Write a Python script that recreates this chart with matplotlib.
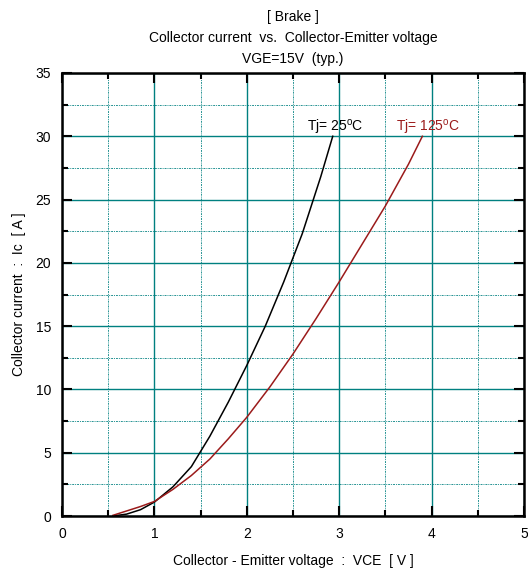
import matplotlib
matplotlib.use("Agg")
import matplotlib.pyplot as plt
from matplotlib.ticker import MultipleLocator

plt.rcParams['font.family'] = ['Liberation Sans', 'DejaVu Sans']

# Tj = 25 C
vce_25 = [0.55, 0.7, 0.85, 1.0, 1.2, 1.4, 1.6, 1.8, 2.0, 2.2, 2.4, 2.6, 2.8, 2.93]
ic_25 = [0.0, 0.15, 0.5, 1.1, 2.3, 3.9, 6.3, 9.0, 11.9, 15.0, 18.5, 22.3, 26.8, 30.0]

# Tj = 125 C
vce_125 = [0.55, 0.7, 0.85, 1.0, 1.2, 1.4, 1.6, 1.8, 2.0, 2.25, 2.5, 2.75, 3.0, 3.25, 3.5, 3.75, 3.9]
ic_125 = [0.05, 0.4, 0.75, 1.15, 2.1, 3.2, 4.5, 6.1, 7.8, 10.2, 12.8, 15.6, 18.5, 21.5, 24.5, 27.8, 30.0]

teal = "#008080"
dark_red = "#9b1b1b"

fig = plt.figure(figsize=(5.28, 5.68), dpi=100)
ax = fig.add_axes([62 / 528, 52 / 568, 462 / 528, 443 / 568])

ax.plot(vce_25, ic_25, color="black", lw=1.1)
ax.plot(vce_125, ic_125, color=dark_red, lw=1.1)

ax.set_xlim(0, 5)
ax.set_ylim(0, 35)
ax.xaxis.set_major_locator(MultipleLocator(1))
ax.xaxis.set_minor_locator(MultipleLocator(0.5))
ax.yaxis.set_major_locator(MultipleLocator(5))
ax.yaxis.set_minor_locator(MultipleLocator(2.5))

ax.grid(which="major", color=teal, lw=1.0, ls="-")
ax.grid(which="minor", color=teal, lw=0.7, alpha=0.85, ls=(0, (2, 1, 1, 1)))

ax.tick_params(which="both", direction="in", top=True, right=True, width=1.5)
ax.tick_params(which="major", length=7, labelsize=10, pad=8)
ax.tick_params(which="minor", length=4)
for s in ax.spines.values():
    s.set_linewidth(1.8)

ax.text(2.65, 30.4, "Tj= 25$^\\mathregular{o}$C", fontsize=10, color="black")
ax.text(3.61, 30.4, "Tj= 125$^\\mathregular{o}$C", fontsize=10, color=dark_red)

ax.set_title("[ Brake ]\nCollector current  vs.  Collector-Emitter voltage\nVGE=15V  (typ.)",
             fontsize=10, linespacing=1.65, pad=7)
ax.set_xlabel("Collector - Emitter voltage  :  VCE  [ V ]", fontsize=10, labelpad=9)
ax.set_ylabel("Collector current  :  Ic  [ A ]", fontsize=10, labelpad=7)

fig.savefig("out.png", dpi=100)
